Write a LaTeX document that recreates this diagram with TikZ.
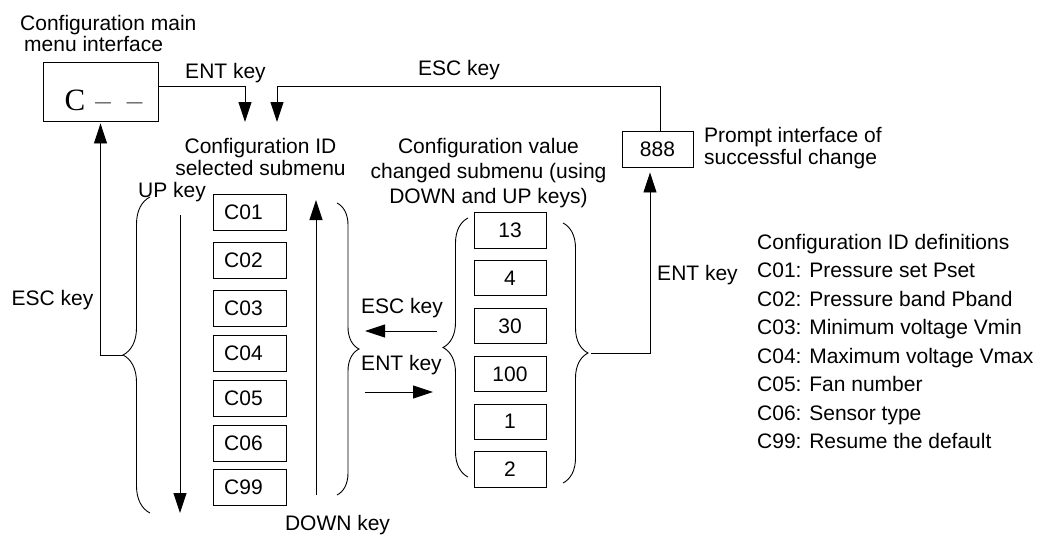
\documentclass[tikz,border=0pt]{standalone}
\usepackage{fontspec}
\setmainfont{Liberation Sans}
\newfontfamily\cfont{Liberation Serif}
\usetikzlibrary{arrows.meta,decorations.pathreplacing,calc}
\begin{document}
\begin{tikzpicture}[x=1pt,y=-1pt,
  every node/.style={inner sep=0pt, font=\fontsize{21}{24}\selectfont},
  ln/.style={line width=0.9pt},
  arr/.style={ln, -{Triangle[length=20pt,width=13pt]}},
  box/.style={draw, line width=0.9pt, minimum width=73pt, minimum height=36pt},
  idbox/.style={box, execute at begin node=\hspace*{-12pt}},
  valbox/.style={box, minimum width=72pt, minimum height=35.5pt},
  curly/.style={ln, decorate, decoration={brace, amplitude=#1}},
  lbl/.style={anchor=base}
]
\fill[white] (0,0) rectangle (1042,536);
\useasboundingbox (0,0) rectangle (1042,536);

% texts
\node[anchor=north west, align=left, font=\fontsize{21}{21}\selectfont] (tmain) at (20,15)
  {Configuration main\\\hspace*{4pt}menu interface};
\node[anchor=north, align=center, font=\fontsize{21}{22}\selectfont] (tcid) at (260.5,138)
  {Configuration ID\\selected submenu};
\node[anchor=north, align=center, font=\fontsize{21}{25}\selectfont] (tcval) at (488.5,138)
  {Configuration value\\changed submenu (using\\DOWN and UP keys)};
\node[anchor=north west, align=left, font=\fontsize{21}{22}\selectfont] (tprompt) at (704,127)
  {Prompt interface of\\successful change};
\node[anchor=north west, align=left, font=\fontsize{21}{28.5}\selectfont] (tdef) at (757,234)
  {Configuration ID definitions\\
   C01: Pressure set Pset\\
   C02: Pressure band Pband\\
   C03: Minimum voltage Vmin\\
   C04: Maximum voltage Vmax\\
   C05: Fan number\\
   C06: Sensor type\\
   C99: Resume the default};

% C-- box
\node[draw, ln, minimum width=115pt, minimum height=59pt, text height=37pt, text depth=0pt,
      font=\cfont\fontsize{31}{31}\selectfont] (cbox) at (100.5,91.5)
  {\hspace*{6pt}C\hspace{10pt}{\color{black!55}–}\hspace{16pt}{\color{black!55}–}};

% 888 box
\node[box, minimum width=71pt] (b888) at (657.5,149) {888};

% ID boxes
\node[idbox] (c01) at (249.5,212) {C01};
\node[idbox] (c02) at (249.5,260) {C02};
\node[idbox] (c03) at (249.5,308) {C03};
\node[idbox] (c04) at (249.5,353) {C04};
\node[idbox] (c05) at (249.5,398) {C05};
\node[idbox] (c06) at (249.5,443) {C06};
\node[idbox] (c99) at (249.5,487) {C99};

% value boxes
\node[valbox] (v1) at (510,230.5) {13};
\node[valbox] (v2) at (510,278) {4};
\node[valbox] (v3) at (510,326) {30};
\node[valbox] (v4) at (510,374) {100};
\node[valbox] (v5) at (510,421.7) {1};
\node[valbox] (v6) at (510,469.5) {2};

% braces
\draw[curly=27] (150,513) -- (150,197);
\draw[curly=22] (337,203) -- (337,495);
\draw[curly=25] (468,477) -- (468,218);
\draw[curly=25] (563,223) -- (563,483);
\coordinate (lbtip) at (123,355);
\coordinate (vrtip) at (591,353);

% coordinates for free ends
\coordinate (entin) at (245,122);
\coordinate (escin) at (277,122);
\coordinate (escturn) at (277,86.7);
\coordinate (downA) at (180,215);
\coordinate (downB) at (180,513);
\coordinate (upA) at (316,495);
\coordinate (upB) at (316,200);
\coordinate (escA) at (437,331);
\coordinate (escB) at (365,331);
\coordinate (entA) at (365,392);
\coordinate (entB) at (433,392);

% connectors
\draw[arr] ([yshift=5.5pt]cbox.east) -| (entin);
\draw[arr] ([xshift=2.5pt]b888.north) |- (escturn) -- (escin);
\draw[arr, shorten >=2pt] (lbtip) -| (cbox.south);
\draw[arr, shorten >=5pt] (vrtip) -| ([xshift=-7.5pt]b888.south);
\draw[arr] (downA) -- (downB);
\draw[arr] (upA) -- (upB);
\draw[arr] (escA) -- (escB);
\draw[arr] (entA) -- (entB);

% labels
\node[lbl] (lent1) at (225.5,78) {ENT key};
\node[lbl] (lesc1) at (459,75) {ESC key};
\node[lbl] (lup) at (172,197) {UP key};
\node[lbl] (lesc2) at (52.5,305) {ESC key};
\node[lbl] (lesc3) at (402,313) {ESC key};
\node[lbl] (lent2) at (401.5,370) {ENT key};
\node[lbl] (lent3) at (697.5,280) {ENT key};
\node[lbl] (ldown) at (337.5,530) {DOWN key};
\end{tikzpicture}
\end{document}
